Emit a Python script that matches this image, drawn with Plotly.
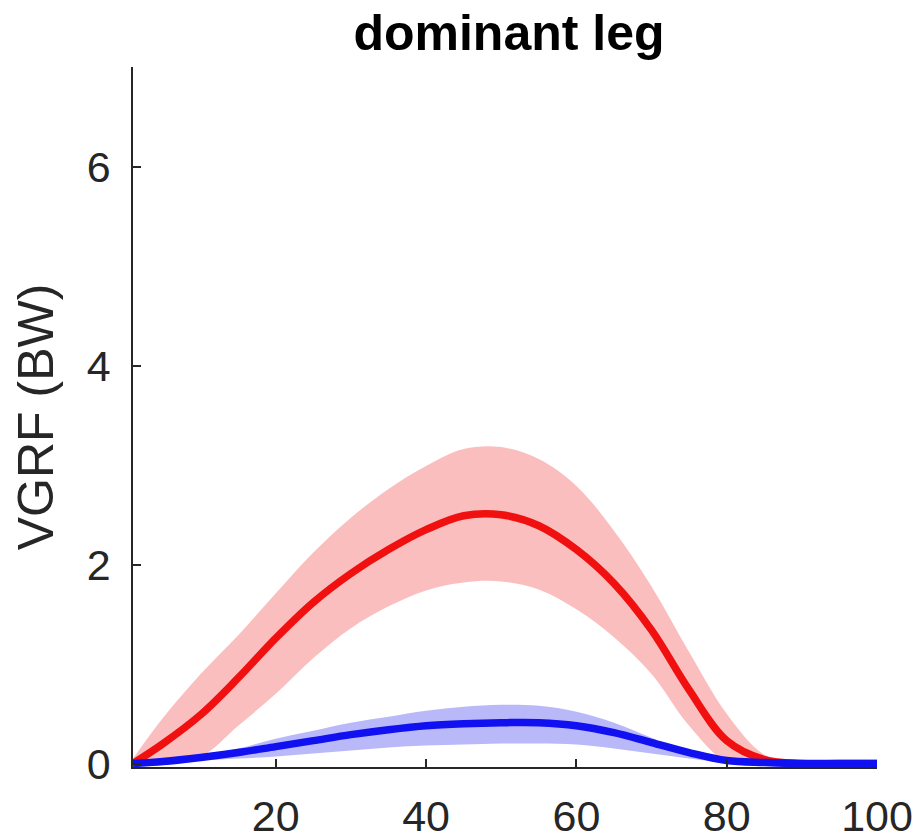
import plotly.graph_objects as go

# Data
x_pts = [1, 5, 10, 15, 20, 25, 30, 35, 40, 45, 50, 55, 60, 65, 70, 75, 80, 85, 90, 95, 100]

red_mean  = [0.00, 0.20, 0.49, 0.86, 1.26, 1.62, 1.91, 2.15, 2.35, 2.49, 2.50, 2.39, 2.15, 1.81, 1.34, 0.74, 0.23, 0.04, 0.00, 0.00, 0.00]
red_upper = [0.05, 0.46, 0.90, 1.29, 1.71, 2.12, 2.47, 2.76, 2.99, 3.16, 3.18, 3.06, 2.79, 2.34, 1.78, 1.12, 0.50, 0.09, 0.00, 0.00, 0.00]
red_lower = [0.00, 0.02, 0.07, 0.38, 0.70, 1.06, 1.36, 1.58, 1.74, 1.82, 1.83, 1.75, 1.55, 1.27, 0.90, 0.38, 0.02, 0.00, 0.00, 0.00, 0.00]

blue_mean  = [0.00, 0.02, 0.06, 0.11, 0.17, 0.23, 0.29, 0.34, 0.38, 0.40, 0.41, 0.41, 0.38, 0.31, 0.21, 0.11, 0.03, 0.01, 0.00, 0.00, 0.00]
blue_upper = [0.00, 0.03, 0.08, 0.15, 0.25, 0.33, 0.41, 0.47, 0.53, 0.57, 0.59, 0.58, 0.52, 0.41, 0.26, 0.12, 0.03, 0.01, 0.00, 0.00, 0.00]
blue_lower = [0.00, 0.01, 0.03, 0.05, 0.07, 0.10, 0.13, 0.16, 0.18, 0.19, 0.20, 0.20, 0.19, 0.15, 0.10, 0.05, 0.01, 0.00, 0.00, 0.00, 0.00]

x_ticks = [20, 40, 60, 80, 100]
y_ticks = [0, 2, 4, 6]

title_text = "dominant leg"
y_label = "VGRF (BW)"

FONT = "Liberation Sans, Arial, Helvetica, sans-serif"
AX = "#262626"

# page body has an 8px margin, so the figure is sized to fit the window
W, H = 912, 831

fig = go.Figure()

def band(lower, upper, color):
    fig.add_trace(go.Scatter(x=x_pts, y=lower, mode="lines",
                             line=dict(width=0, shape="spline", smoothing=1.0),
                             hoverinfo="skip", showlegend=False))
    fig.add_trace(go.Scatter(x=x_pts, y=upper, mode="lines", fill="tonexty",
                             fillcolor=color,
                             line=dict(width=0, shape="spline", smoothing=1.0),
                             hoverinfo="skip", showlegend=False))

band(red_lower, red_upper, "rgba(245,110,110,0.45)")
band(blue_lower, blue_upper, "rgba(70,70,240,0.38)")

fig.add_trace(go.Scatter(x=x_pts, y=red_mean, mode="lines",
                         line=dict(color="#f01010", width=7.5, shape="spline", smoothing=1.0),
                         showlegend=False))
fig.add_trace(go.Scatter(x=x_pts, y=blue_mean, mode="lines",
                         line=dict(color="#1010f0", width=7.5, shape="spline", smoothing=1.0),
                         showlegend=False))

fig.update_layout(
    width=W, height=H,
    margin=dict(l=125, r=43, t=59, b=72, autoexpand=False),
    paper_bgcolor="white", plot_bgcolor="white",
    showlegend=False,
    font=dict(family=FONT, color=AX),
    title=dict(text="<b>" + title_text + "</b>", x=501 / W, xanchor="center",
               y=1 - 24 / H, yanchor="middle", yref="container",
               font=dict(family=FONT, size=50, color="black"), automargin=False),
)

fig.update_xaxes(
    range=[1, 100], tickvals=x_ticks, ticktext=[str(v) for v in x_ticks],
    showline=True, linecolor=AX, linewidth=1.5,
    ticks="inside", ticklen=8, tickwidth=1.5, tickcolor=AX,
    showgrid=False, zeroline=False, automargin=False,
    tickfont=dict(family=FONT, size=43, color=AX),
    ticklabelstandoff=11,
)
fig.update_yaxes(
    range=[-0.035, 7], tickvals=y_ticks, ticktext=[str(v) for v in y_ticks],
    showline=True, linecolor=AX, linewidth=1.5,
    ticks="inside", ticklen=8, tickwidth=1.5, tickcolor=AX,
    showgrid=False, zeroline=False, automargin=False,
    tickfont=dict(family=FONT, size=43, color=AX),
    ticklabelstandoff=12,
    title=dict(text=y_label, font=dict(family=FONT, size=50, color=AX), standoff=24),
)

fig.write_html("out.html")
